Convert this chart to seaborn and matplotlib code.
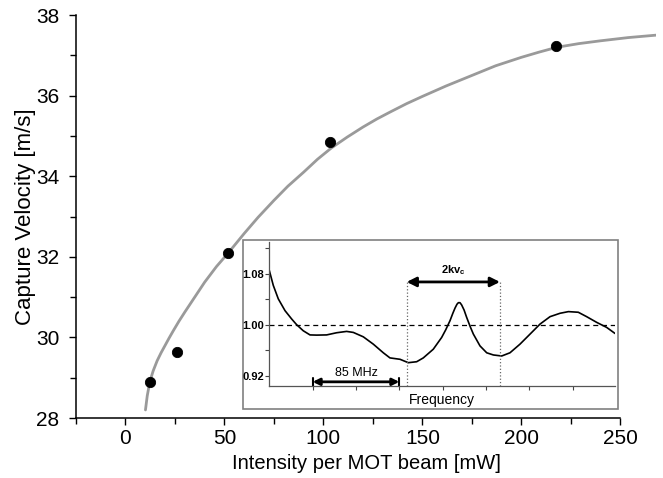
import numpy as np
import pandas as pd
import matplotlib
matplotlib.use("Agg")
import matplotlib.pyplot as plt
import seaborn as sns
from matplotlib.patches import Rectangle
from matplotlib.ticker import MultipleLocator

# ---- main data: capture velocity vs intensity ----
intensity = [12.3, 25.8, 51.9, 103.5, 217.5]
velocity = [28.9, 29.65, 32.09, 34.84, 37.22]

# fit curve
fit_x = [10.1, 11, 12.3, 14, 16, 18, 20, 22, 24.1, 27, 30, 35, 40, 46, 52,
         60, 67, 75, 82, 90, 97, 104, 112, 120, 127, 134, 142, 150, 162, 175,
         187, 200, 209, 218, 229, 240, 254, 268]
fit_y = [28.2, 28.55, 28.9, 29.17, 29.42, 29.62, 29.8, 29.98, 30.16, 30.4,
         30.63, 31.0, 31.37, 31.76, 32.1, 32.58, 32.98, 33.4, 33.75, 34.1,
         34.42, 34.7, 34.97, 35.22, 35.42, 35.6, 35.8, 35.98, 36.24, 36.5,
         36.74, 36.95, 37.08, 37.2, 37.29, 37.36, 37.44, 37.5]

# ---- inset data: normalized signal vs frequency [MHz] ----
freq = [0, 3.9, 8.8, 15.4, 21.9, 26.8, 33.3, 39.9, 46.4, 56.2, 66, 75.8, 82.4,
        92.2, 102, 111.8, 118.3, 128.2, 136.3, 144.5, 151, 160.8, 169, 173,
        177.2, 180, 182.1, 184, 185.4, 187, 188.6, 191, 193.5, 197, 200.1,
        206.6, 213.2, 219.7, 227.9, 236, 245.8, 255.7, 265.5, 275.3, 285.1,
        293.3, 303, 311.2, 321, 330.8, 339]
signal = [1.085, 1.0616, 1.0405, 1.022, 1.009, 1.0, 0.9905, 0.984, 0.9837,
          0.984, 0.9874, 0.9895, 0.9879, 0.981, 0.9695, 0.956, 0.948, 0.9458,
          0.9405, 0.942, 0.948, 0.9616, 0.98, 0.992, 1.0063, 1.018, 1.026,
          1.032, 1.0345, 1.0345, 1.031, 1.023, 1.0116, 0.997, 0.9853, 0.9668,
          0.956, 0.9526, 0.951, 0.956, 0.9695, 0.9853, 1.001, 1.0126, 1.0179,
          1.0205, 1.0195, 1.0126, 1.0037, 0.9958, 0.9863]

# annotation positions in the inset (MHz / signal units)
MHZ85_START, MHZ85_END, MHZ85_Y = 42.5, 127.5, 0.9105
KV_START, KV_END, KV_Y = 134.7, 226.2, 1.067

sns.set_theme(style="ticks")
plt.rcParams['font.family'] = ['Liberation Sans', 'DejaVu Sans']
plt.rcParams['text.color'] = 'black'
plt.rcParams['axes.labelcolor'] = 'black'
plt.rcParams['xtick.color'] = 'black'
plt.rcParams['ytick.color'] = 'black'

fig = plt.figure(figsize=(6.63, 4.78), dpi=100)
ax = fig.add_axes([0.1146, 0.1255, 0.8748, 0.8431])

curve_df = pd.DataFrame({'x': fit_x, 'y': fit_y})
pts_df = pd.DataFrame({'x': intensity, 'y': velocity})
sns.lineplot(data=curve_df, x='x', y='y', ax=ax, color='#9a9a9a', lw=2.0,
             sort=False, estimator=None, zorder=2)
sns.scatterplot(data=pts_df, x='x', y='y', ax=ax, color='black', s=55,
                edgecolor='black', zorder=3)

ax.set_xlim(-25, 268)
ax.set_ylim(28, 38)
ax.spines['top'].set_visible(False)
ax.spines['right'].set_visible(False)
ax.spines['bottom'].set_bounds(-25, 250)
ax.set_xticks([0, 50, 100, 150, 200, 250])
ax.xaxis.set_minor_locator(MultipleLocator(25))
ax.set_yticks([28, 30, 32, 34, 36, 38])
ax.yaxis.set_minor_locator(MultipleLocator(1))
ax.tick_params(which='major', length=5, width=1, labelsize=15)
ax.tick_params(axis='y', which='major', pad=7)
ax.tick_params(axis='x', which='major', pad=3)
ax.tick_params(which='minor', length=4, width=1)
ax.set_xlabel('Intensity per MOT beam [mW]', fontsize=14.5, labelpad=4)
ax.set_ylabel('Capture Velocity [m/s]', fontsize=16, labelpad=0)
for s in ['left', 'bottom']:
    ax.spines[s].set_color('black')
    ax.spines[s].set_linewidth(1.1)

# ---- inset frame ----
frame = Rectangle((0.366, 0.1444), 0.5657, 0.3536, transform=fig.transFigure,
                  facecolor='white', edgecolor='#808080', lw=1.2, zorder=5)
fig.patches.append(frame)

ins = fig.add_axes([0.4062, 0.1925, 0.5214, 0.3018], zorder=6)
ins.patch.set_alpha(0)
ins_df = pd.DataFrame({'f': freq, 's': signal})
sns.lineplot(data=ins_df, x='f', y='s', ax=ins, color='black', lw=1.2,
             sort=False, estimator=None)
ins.axhline(1.0, color='black', ls=(0, (4, 3)), lw=0.9)
ins.set_xlim(0, 339)
ins.set_ylim(0.904, 1.13)
ins.set_xticks(np.arange(42.5, 340, 42.5))
ins.set_xticklabels([])
ins.set_yticks([0.92, 1.00, 1.08])
ins.set_yticklabels(['0.92', '1.00', '1.08'], fontweight='semibold')
ins.yaxis.set_minor_locator(MultipleLocator(0.04))
ins.tick_params(which='both', direction='out', length=3, width=0.8,
                labelsize=8, pad=1, color='#444444')
ins.spines['top'].set_visible(False)
ins.spines['right'].set_visible(False)
for s in ['left', 'bottom']:
    ins.spines[s].set_color('#555555')
    ins.spines[s].set_linewidth(0.9)
ins.set_xlabel('Frequency', fontsize=10, labelpad=1)
ins.set_ylabel('')

# dotted guides and arrows
for xv in [KV_START, KV_END]:
    ins.plot([xv, xv], [0.904, KV_Y], color='#666666', ls=':', lw=0.9)
ins.annotate('', xy=(KV_END, KV_Y), xytext=(KV_START, KV_Y),
             arrowprops=dict(arrowstyle='<|-|>', color='black', lw=2,
                             mutation_scale=14, shrinkA=0, shrinkB=0))
ins.text((KV_START + KV_END) / 2, KV_Y + 0.008, '2kv$_\\mathregular{c}$',
         ha='center', va='bottom', fontsize=8, fontweight='bold')
ins.annotate('', xy=(MHZ85_END, MHZ85_Y), xytext=(MHZ85_START, MHZ85_Y),
             arrowprops=dict(arrowstyle='<|-|>', color='black', lw=2,
                             mutation_scale=10, shrinkA=0, shrinkB=0))
for xv in [MHZ85_START, MHZ85_END]:
    ins.plot([xv, xv], [MHZ85_Y - 0.006, MHZ85_Y + 0.006], color='black', lw=1.5)
ins.text((MHZ85_START + MHZ85_END) / 2, MHZ85_Y + 0.004, '85 MHz',
         ha='center', va='bottom', fontsize=9)

fig.savefig('out.png', dpi=100)
